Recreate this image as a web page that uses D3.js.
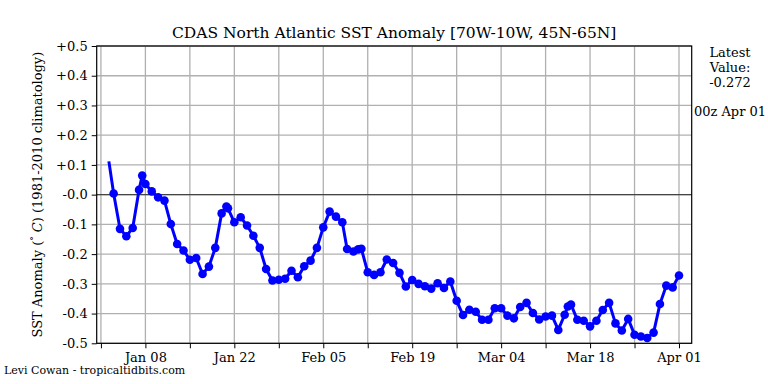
<!DOCTYPE html>
<html><head><meta charset="utf-8">
<script src="https://cdn.jsdelivr.net/npm/d3@7"></script>
<style>
html,body{margin:0;padding:0;background:#fff;}
text{font-family:"DejaVu Serif",serif;fill:#000;}
</style></head>
<body><svg id="c" width="768" height="384"></svg>
<script>
// ---- data ----
const times = ["2024-01-02T06","2024-01-03T00","2024-01-04T00","2024-01-05T00","2024-01-06T00","2024-01-07T00","2024-01-07T12","2024-01-08T00","2024-01-09T00","2024-01-10T00","2024-01-11T00","2024-01-12T00","2024-01-13T00","2024-01-14T00","2024-01-15T00","2024-01-16T00","2024-01-17T00","2024-01-18T00","2024-01-19T00","2024-01-20T00","2024-01-20T18","2024-01-21T00","2024-01-22T00","2024-01-23T00","2024-01-24T00","2024-01-25T00","2024-01-26T00","2024-01-27T00","2024-01-28T00","2024-01-29T00","2024-01-30T00","2024-01-31T00","2024-02-01T00","2024-02-02T00","2024-02-03T00","2024-02-04T00","2024-02-05T00","2024-02-06T00","2024-02-07T00","2024-02-08T00","2024-02-08T18","2024-02-09T18","2024-02-10T12","2024-02-11T00","2024-02-12T00","2024-02-13T00","2024-02-14T00","2024-02-15T00","2024-02-16T00","2024-02-17T00","2024-02-18T00","2024-02-19T00","2024-02-20T00","2024-02-21T00","2024-02-22T00","2024-02-23T00","2024-02-24T00","2024-02-25T00","2024-02-26T00","2024-02-27T00","2024-02-28T00","2024-02-29T00","2024-03-01T00","2024-03-02T00","2024-03-03T00","2024-03-04T00","2024-03-05T00","2024-03-06T00","2024-03-07T00","2024-03-08T00","2024-03-09T00","2024-03-10T00","2024-03-11T00","2024-03-12T00","2024-03-13T00","2024-03-14T00","2024-03-14T12","2024-03-15T00","2024-03-16T00","2024-03-17T00","2024-03-18T00","2024-03-19T00","2024-03-20T00","2024-03-21T00","2024-03-22T00","2024-03-23T00","2024-03-24T00","2024-03-25T00","2024-03-26T00","2024-03-27T00","2024-03-28T00","2024-03-29T00","2024-03-30T00","2024-03-31T00","2024-04-01T00"];
const anomaly = [0.112,0.004,-0.115,-0.140,-0.112,0.016,0.064,0.036,0.011,-0.009,-0.020,-0.099,-0.166,-0.188,-0.219,-0.213,-0.267,-0.242,-0.179,-0.063,-0.040,-0.046,-0.093,-0.076,-0.104,-0.138,-0.179,-0.250,-0.289,-0.286,-0.283,-0.256,-0.278,-0.241,-0.222,-0.179,-0.110,-0.057,-0.074,-0.093,-0.183,-0.191,-0.184,-0.182,-0.261,-0.270,-0.261,-0.218,-0.230,-0.263,-0.309,-0.287,-0.300,-0.308,-0.316,-0.298,-0.314,-0.292,-0.357,-0.405,-0.387,-0.394,-0.421,-0.421,-0.382,-0.382,-0.407,-0.416,-0.378,-0.364,-0.398,-0.420,-0.410,-0.407,-0.455,-0.404,-0.376,-0.370,-0.421,-0.424,-0.443,-0.424,-0.388,-0.364,-0.433,-0.457,-0.418,-0.471,-0.477,-0.482,-0.464,-0.368,-0.306,-0.312,-0.272];
const xDomain = ["2023-12-31T08","2024-04-03T00"];
const majorTicks = ["2024-01-08T00","2024-01-22T00","2024-02-05T00","2024-02-19T00","2024-03-04T00","2024-03-18T00","2024-04-01T00"];
const majorLabels = ["Jan 08","Jan 22","Feb 05","Feb 19","Mar 04","Mar 18","Apr 01"];
const minorTicks = ["2024-01-01T00","2024-01-15T00","2024-01-29T00","2024-02-12T00","2024-02-26T00","2024-03-11T00","2024-03-25T00"];
const yTicks = [0.5,0.4,0.3,0.2,0.1,0.0,-0.1,-0.2,-0.3,-0.4,-0.5];
const yLabels = ["+0.5","+0.4","+0.3","+0.2","+0.1","-0.0","-0.1","-0.2","-0.3","-0.4","-0.5"];
const titleText = "CDAS North Atlantic SST Anomaly [70W-10W, 45N-65N]";
const latestLines = ["Latest","Value:","-0.272"];
const latestTime = "00z Apr 01";
const credit = "Levi Cowan - tropicaltidbits.com";

// ---- layout ----
const L = 96.7, R = 691.7, T = 46, B = 343.3;
const parse = d3.utcParse("%Y-%m-%dT%H");
const data = times.map((t,i)=>({t:parse(t), v:anomaly[i]}));
const x = d3.scaleUtc().domain(xDomain.map(parse)).range([L,R]);
const y = d3.scaleLinear().domain([-0.5,0.5]).range([B,T]);
const svg = d3.select("#c");
svg.append("rect").attr("width",768).attr("height",384).attr("fill","#fff");

const g = svg.append("g");
// grid
const allX = majorTicks.concat(minorTicks).map(parse);
g.selectAll(".vg").data(allX).enter().append("line")
  .attr("x1",d=>x(d)).attr("x2",d=>x(d)).attr("y1",T).attr("y2",B)
  .attr("stroke","#b0b0b0").attr("stroke-width",1.3);
g.selectAll(".hg").data(yTicks).enter().append("line")
  .attr("x1",L).attr("x2",R).attr("y1",d=>y(d)).attr("y2",d=>y(d))
  .attr("stroke","#b0b0b0").attr("stroke-width",1.3);
// zero line
g.append("line").attr("x1",L).attr("x2",R).attr("y1",y(0)).attr("y2",y(0))
  .attr("stroke","#444").attr("stroke-width",1.3);

// series
const line = d3.line().x(d=>x(d.t)).y(d=>y(d.v));
g.append("path").datum(data).attr("d",line).attr("fill","none")
  .attr("stroke","#0000ff").attr("stroke-width",3).attr("stroke-linejoin","round");
g.selectAll(".pt").data(data.slice(1)).enter().append("circle")
  .attr("cx",d=>x(d.t)).attr("cy",d=>y(d.v)).attr("r",4.3).attr("fill","#0000ff");

// frame
svg.append("rect").attr("x",L).attr("y",T).attr("width",R-L).attr("height",B-T)
  .attr("fill","none").attr("stroke","#000").attr("stroke-width",1.2);

// x axis ticks
const xa = d3.axisBottom(x).tickValues(majorTicks.map(parse))
  .tickFormat((d,i)=>majorLabels[i]).tickSize(5).tickPadding(4);
const xg = svg.append("g").attr("transform",`translate(0,${B})`).call(xa);
xg.select(".domain").remove();
xg.selectAll("text").style("font-family","DejaVu Serif").style("font-size","13px").attr("fill","#000");
const xm = d3.axisBottom(x).tickValues(minorTicks.map(parse)).tickFormat("").tickSize(5);
const xmg = svg.append("g").attr("transform",`translate(0,${B})`).call(xm);
xmg.select(".domain").remove();
svg.selectAll(".tick line").attr("stroke","#000").attr("stroke-width",1);

// y axis
const ya = d3.axisLeft(y).tickValues(yTicks).tickFormat((d,i)=>yLabels[i]).tickSize(5).tickPadding(4);
const yg = svg.append("g").attr("transform",`translate(${L},0)`).call(ya);
yg.select(".domain").remove();
yg.selectAll("text").style("font-family","DejaVu Serif").style("font-size","13px").attr("fill","#000");
yg.selectAll(".tick line").attr("stroke","#000");

// title
svg.append("text").attr("x",(L+R)/2).attr("y",38).attr("text-anchor","middle")
  .style("font-size","15.5px").text(titleText);

// y label
const yl = svg.append("text").attr("transform",`translate(42,${(T+B)/2}) rotate(-90)`)
  .attr("text-anchor","middle").style("font-size","13px");
yl.append("tspan").text("SST Anomaly (");
yl.append("tspan").attr("dy",-5).style("font-size","9px").text("°");
yl.append("tspan").attr("dy",5).text(" ");
yl.append("tspan").style("font-style","italic").text("C");
yl.append("tspan").text(") (1981-2010 climatology)");

// right annotation
latestLines.forEach((s,i)=>{
  svg.append("text").attr("x",730).attr("y",57+i*15).attr("text-anchor","middle")
    .style("font-size","13px").text(s);
});
svg.append("text").attr("x",730).attr("y",116).attr("text-anchor","middle")
  .style("font-size","13px").text(latestTime);

// credit
svg.append("text").attr("x",4).attr("y",374).style("font-size","11px").text(credit);
</script></body></html>
